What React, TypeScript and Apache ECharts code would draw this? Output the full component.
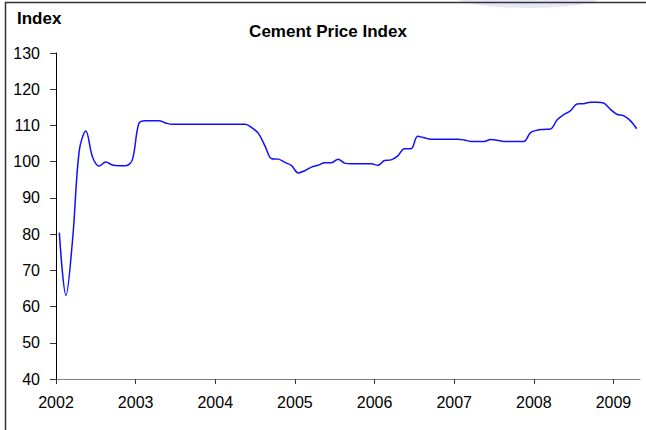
import React, { useEffect, useRef } from "react";
import * as echarts from "echarts";

// Monthly cement price index, Jan 2002 .. Apr 2009
const startYear = 2002;
const indexValues = [
  80.4, 63.1, 78.5, 103.0, 108.5, 101.3, 98.8, 99.9, 99.1, 98.9, 98.9, 100.5,
  110.6, 111.3, 111.3, 111.3, 110.7, 110.3, 110.3, 110.3, 110.3, 110.3, 110.3, 110.3,
  110.3, 110.3, 110.3, 110.3, 110.3, 109.4, 107.8, 104.3, 100.8, 100.7, 99.8, 98.9,
  96.9, 97.5, 98.5, 99.0, 99.7, 99.7, 100.7, 99.6, 99.4, 99.4, 99.4, 99.4,
  99.0, 100.3, 100.5, 101.6, 103.6, 103.6, 107.0, 106.6, 106.2, 106.2, 106.2, 106.2,
  106.2, 106.0, 105.6, 105.6, 105.6, 106.1, 105.9, 105.6, 105.6, 105.6, 105.6, 108.0,
  108.7, 108.9, 109.0, 111.5, 113.0, 114.0, 115.9, 116.0, 116.4, 116.4, 116.2, 114.5,
  113.1, 112.7, 111.4, 109.1,
];
const yearTicks = [2002, 2003, 2004, 2005, 2006, 2007, 2008, 2009];
const yTicks = [40, 50, 60, 70, 80, 90, 100, 110, 120, 130];
const title = "Cement Price Index";
const yName = "Index";

export default function App() {
  const ref = useRef<HTMLDivElement>(null);
  useEffect(() => {
    if (!ref.current) return;
    const chart = echarts.init(ref.current, null, { renderer: "svg" });
    const data = indexValues.map((v, i) => [startYear + (i + 0.5) / 12, v]);
    const font = "'Liberation Sans', Arial, sans-serif";
    chart.setOption({
      animation: false,
      backgroundColor: "#ffffff",
      textStyle: { fontFamily: font },
      grid: { left: 56, right: 6, top: 53, bottom: 51, containLabel: false },
      graphic: [
        {
          type: "ellipse",
          shape: { cx: 528, cy: -3, rx: 72, ry: 11 },
          style: { fill: "rgba(215,215,245,0.6)", stroke: "none" },
          silent: true,
        },
        {
          type: "rect",
          shape: { x: 5.5, y: 2.5, width: 700, height: 600 },
          style: { fill: "none", stroke: "#333333", lineWidth: 1.5 },
          silent: true,
        },
        {
          type: "text",
          x: 328,
          y: 31,
          style: {
            text: title,
            font: `bold 17px ${font}`,
            fill: "#000",
            align: "center",
            verticalAlign: "middle",
          },
        },
        {
          type: "text",
          x: 17,
          y: 18,
          style: {
            text: yName,
            font: `bold 17px ${font}`,
            fill: "#000",
            align: "left",
            verticalAlign: "middle",
          },
        },
      ],
      xAxis: {
        type: "value",
        min: startYear,
        max: 2009 + 4 / 12,
        axisLine: { show: true, lineStyle: { color: "#808080", width: 1 } },
        axisTick: {
          show: true,
          length: 5,
          inside: false,
          customValues: yearTicks,
          lineStyle: { color: "#333333" },
        },
        axisLabel: {
          customValues: yearTicks,
          formatter: (v: number) => String(Math.round(v)),
          color: "#000",
          fontSize: 16,
          fontFamily: font,
          margin: 15,
        },
        splitLine: { show: false },
      },
      yAxis: {
        type: "value",
        min: 40,
        max: 130,
        interval: 10,
        axisLine: { show: true, lineStyle: { color: "#000", width: 1 } },
        axisTick: {
          show: true,
          length: 6,
          customValues: yTicks,
          lineStyle: { color: "#333333" },
        },
        axisLabel: {
          customValues: yTicks,
          color: "#000",
          fontSize: 16,
          fontFamily: font,
          margin: 16,
        },
        splitLine: { show: false },
      },
      series: [
        {
          type: "line",
          data,
          showSymbol: false,
          smooth: 0.35,
          lineStyle: { color: "#1010ff", width: 1.5 },
          itemStyle: { color: "#1010ff" },
        },
      ],
    });
    return () => chart.dispose();
  }, []);
  return (
    <div
      ref={ref}
      style={{ position: "fixed", left: 0, top: 0, width: 646, height: 430 }}
    />
  );
}
